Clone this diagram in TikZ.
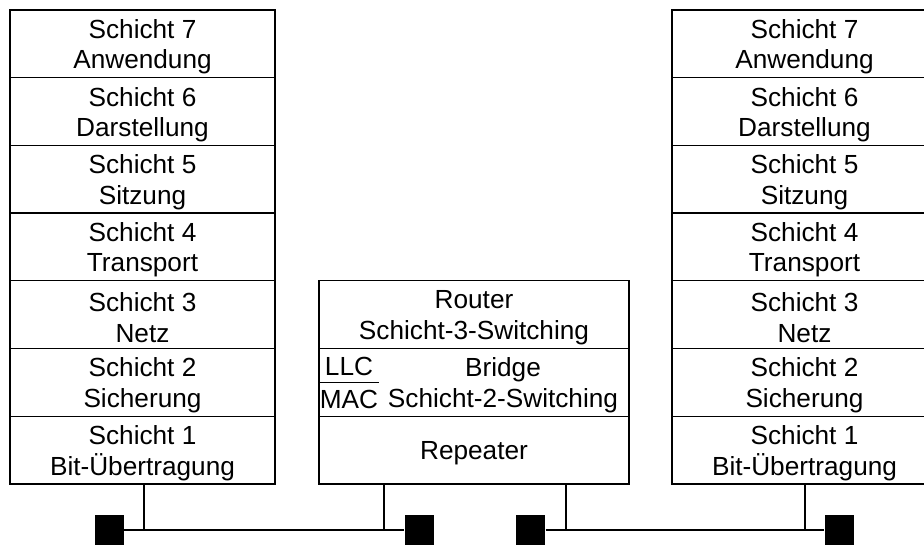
\documentclass[tikz,border=0pt]{standalone}
\usepackage{fontspec}
\setmainfont{Liberation Sans}
\usetikzlibrary{positioning}

\begin{document}
\begin{tikzpicture}[x=1pt,y=-1pt,line width=1.3pt,
  txt/.style={align=center,inner sep=0pt,font=\fontsize{26.2}{30.5}\selectfont},
  lbl/.style={txt,yshift=-3pt},
  layer/.style={draw,minimum width=265pt,minimum height=67.7pt,inner sep=0pt},
  midlayer/.style={layer,minimum width=310pt},
  term/.style={fill=black,minimum width=29pt,minimum height=30pt,inner sep=0pt},
  bus/.style={line width=2.6pt}]
\useasboundingbox (0,0) rectangle (924,544);

% Endsystem links
\foreach \n/\name in {7/Anwendung,6/Darstellung,5/Sitzung,4/Transport,3/Netz,2/Sicherung,1/Bit-Übertragung} {
  \node[layer,label={[lbl]center:{Schicht \n\\\name}}] (l\n) at (142.5,{43.85+(7-\n)*67.7}) {};
}

% Endsystem rechts
\foreach \n/\name in {7/Anwendung,6/Darstellung,5/Sitzung,4/Transport,3/Netz,2/Sicherung,1/Bit-Übertragung} {
  \node[layer,label={[lbl]center:{Schicht \n\\\name}}] (r\n) at (804.5,{43.85+(7-\n)*67.7}) {};
}

% Koppelelemente
\node[midlayer,label={[lbl]center:{Router\\Schicht-3-Switching}}] (m3) at (474,314.6) {};
\node[midlayer] (m2) at (474,382.3) {};
\node[midlayer,label={[lbl]center:{Repeater}}] (m1) at (474,450) {};
\node[lbl] (bridge) at (503,382.3) {Bridge\\Schicht-2-Switching};
\node[txt] (llc) at (349,366) {LLC};
\node[txt] (mac) at (349,399) {MAC};
\coordinate (sl) at (320,382);
\coordinate (sr) at (379,382);
\draw[line width=0.6pt] (sl) -- (sr);

% Abschlusswiderstaende
\node[term] (t1) at (109,530) {};
\node[term] (t2) at (419,530) {};
\node[term] (t3) at (530.5,530) {};
\node[term] (t4) at (839.5,530) {};

% Busse
\draw[bus] (t1) -- (t2);
\draw[bus] (t3) -- (t4);

% Anschluesse
\coordinate (a1) at (144,530);
\coordinate (a2) at (384,530);
\coordinate (a3) at (566,530);
\coordinate (a4) at (805,530);
\draw[bus] (l1.south -| a1) -- (a1);
\draw[bus] (m1.south -| a2) -- (a2);
\draw[bus] (m1.south -| a3) -- (a3);
\draw[bus] (r1.south -| a4) -- (a4);
\end{tikzpicture}
\end{document}
